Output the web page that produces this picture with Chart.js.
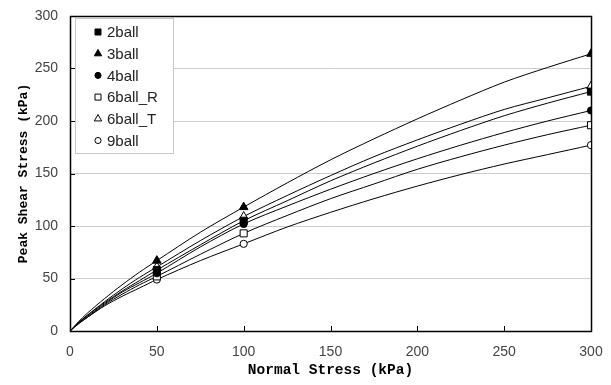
<!DOCTYPE html>
<html>
<head>
<meta charset="utf-8">
<script src="https://cdn.jsdelivr.net/npm/chart.js@4.4.0/dist/chart.umd.min.js"></script>
<style>
html,body{margin:0;padding:0;background:#fff;}
#wrap{width:611px;height:385px;position:relative;}
</style>
</head>
<body>
<div id="wrap"><canvas id="c" width="611" height="385"></canvas></div>
<script>
// ---- data ----
const normalStress = [0, 5, 10, 20, 30, 40, 50, 75, 100, 125, 150, 175, 200, 225, 250, 275, 300];
const markerStress = [50, 100, 300];
const seriesLabels = ['2ball', '3ball', '4ball', '6ball_R', '6ball_T', '9ball'];
const shear2ball  = [0, 8, 15, 27, 38, 48, 58, 82, 105, 124, 143, 160, 176, 191, 205, 217, 228];
const shear3ball  = [0, 9, 17, 31, 44, 56, 67, 94, 118, 141, 163, 183, 202, 220, 237, 251, 264];
const shear4ball  = [0, 8, 14, 26, 37, 46, 55, 80, 102, 119, 135, 150, 164, 177, 189, 200, 210];
const shear6ballR = [0, 7, 13, 25, 35, 44, 52, 73, 93, 110, 126, 140, 154, 166, 177, 187, 196];
const shear6ballT = [0, 8, 15, 28, 40, 51, 61, 86, 109, 129, 148, 166, 182, 197, 211, 222, 233];
const shear9ball  = [0, 7, 13, 24, 33, 41, 49, 67, 83, 99, 113, 126, 138, 149, 159, 168, 177];
const yTicks = [0, 50, 100, 150, 200, 250, 300];
const xTicks = [0, 50, 100, 150, 200, 250, 300];

// ---- styles ----
const seriesValues = [shear2ball, shear3ball, shear4ball, shear6ballR, shear6ballT, shear9ball];
const styles = [
  {ps:'rect', fill:'#000', r:5},
  {ps:'triangle', fill:'#000', r:5},
  {ps:'circle', fill:'#000', r:3.6},
  {ps:'rect', fill:'#fff', r:5},
  {ps:'triangle', fill:'#fff', r:5},
  {ps:'circle', fill:'#fff', r:3.6}
];

const datasets = seriesLabels.map((lab, i) => ({
  label: lab,
  data: normalStress.map((x, k) => ({x: x, y: seriesValues[i][k]})),
  borderColor: '#000',
  borderWidth: 1,
  backgroundColor: styles[i].fill,
  pointStyle: styles[i].ps,
  pointBackgroundColor: styles[i].fill,
  pointBorderColor: '#000',
  pointBorderWidth: 1,
  pointRadius: ctx => (markerStress.includes(normalStress[ctx.dataIndex]) ? styles[i].r : 0),
  pointHoverRadius: 0,
  tension: 0.3,
  fill: false
}));

const framePlugin = {
  id: 'frame',
  beforeDatasetsDraw(chart) {
    const {ctx, chartArea: a, scales} = chart;
    ctx.save();
    ctx.strokeStyle = '#000';
    ctx.lineWidth = 1;
    ctx.beginPath();
    xTicks.forEach(v => {
      const px = Math.round(scales.x.getPixelForValue(v)) + 0.5;
      ctx.moveTo(px, a.bottom); ctx.lineTo(px, a.bottom - 5);
    });
    yTicks.forEach(v => {
      const py = Math.round(scales.y.getPixelForValue(v)) + 0.5;
      ctx.moveTo(a.left, py); ctx.lineTo(a.left + 5, py);
    });
    ctx.stroke();
    ctx.lineWidth = 1.5;
    ctx.strokeRect(Math.round(a.left) + 0.5, Math.round(a.top) + 0.5, Math.round(a.right - a.left), Math.round(a.bottom - a.top));
    ctx.restore();
  },
  afterDatasetsDraw(chart) {
    const {ctx, chartArea: a} = chart;
    const bx = a.left + 5, by = a.top + 2, bw = 98, bh = 135;
    ctx.save();
    ctx.fillStyle = '#fff';
    ctx.fillRect(bx, by, bw, bh);
    ctx.strokeStyle = '#c8c8c8';
    ctx.lineWidth = 1;
    ctx.strokeRect(bx + 0.5, by + 0.5, bw, bh);
    ctx.font = '15px "Liberation Sans", Arial, sans-serif';
    ctx.textBaseline = 'middle';
    ctx.textAlign = 'left';
    seriesLabels.forEach((lab, i) => {
      const y = by + 14 + i * 21.7;
      ctx.fillStyle = styles[i].fill;
      ctx.strokeStyle = '#000';
      ctx.lineWidth = 1;
      Chart.helpers.drawPoint(ctx, {pointStyle: styles[i].ps, radius: styles[i].r * 0.85, rotation: 0, borderWidth: 1}, bx + 23, y);
      ctx.fillStyle = '#222';
      ctx.fillText(lab, bx + 32, y + 1);
    });
    ctx.restore();
  }
};

new Chart(document.getElementById('c'), {
  type: 'line',
  data: {datasets},
  plugins: [framePlugin],
  options: {
    responsive: false,
    animation: false,
    devicePixelRatio: 1,
    layout: {padding: {left: 0, top: 16, right: 20, bottom: 0}},
    plugins: {legend: {display: false}, tooltip: {enabled: false}},
    scales: {
      x: {
        type: 'linear', min: 0, max: 300,
        afterBuildTicks: s => { s.ticks = xTicks.map(v => ({value: v})); },
        afterFit: s => { s.height = 54; s.paddingRight = 0; s.paddingLeft = 0; },
        grid: {display: false, drawTicks: false},
        border: {display: false},
        ticks: {color: '#444', padding: 13, font: {family: '"Liberation Sans", Arial, sans-serif', size: 14}, maxRotation: 0},
        title: {display: true, text: 'Normal Stress (kPa)', color: '#000',
          font: {family: '"Liberation Mono", "Courier New", monospace', size: 14.5, weight: 'bold'}, padding: {top: 0, bottom: 6}}
      },
      y: {
        type: 'linear', min: 0, max: 300,
        afterBuildTicks: s => { s.ticks = yTicks.map(v => ({value: v})); },
        afterFit: s => { s.width = 70; s.paddingTop = 0; s.paddingBottom = 0; },
        grid: {color: ctx => (ctx.tick && (ctx.tick.value === 0 || ctx.tick.value === 300) ? 'rgba(0,0,0,0)' : '#cccccc'), lineWidth: 1, drawTicks: false},
        border: {display: false},
        ticks: {color: '#444', padding: 12, font: {family: '"Liberation Sans", Arial, sans-serif', size: 14}},
        title: {display: true, text: 'Peak Shear Stress (kPa)', color: '#000',
          font: {family: '"Liberation Mono", "Courier New", monospace', size: 13, weight: 'bold'}, padding: {top: 16, bottom: 0}}
      }
    }
  }
});
</script>
</body>
</html>
